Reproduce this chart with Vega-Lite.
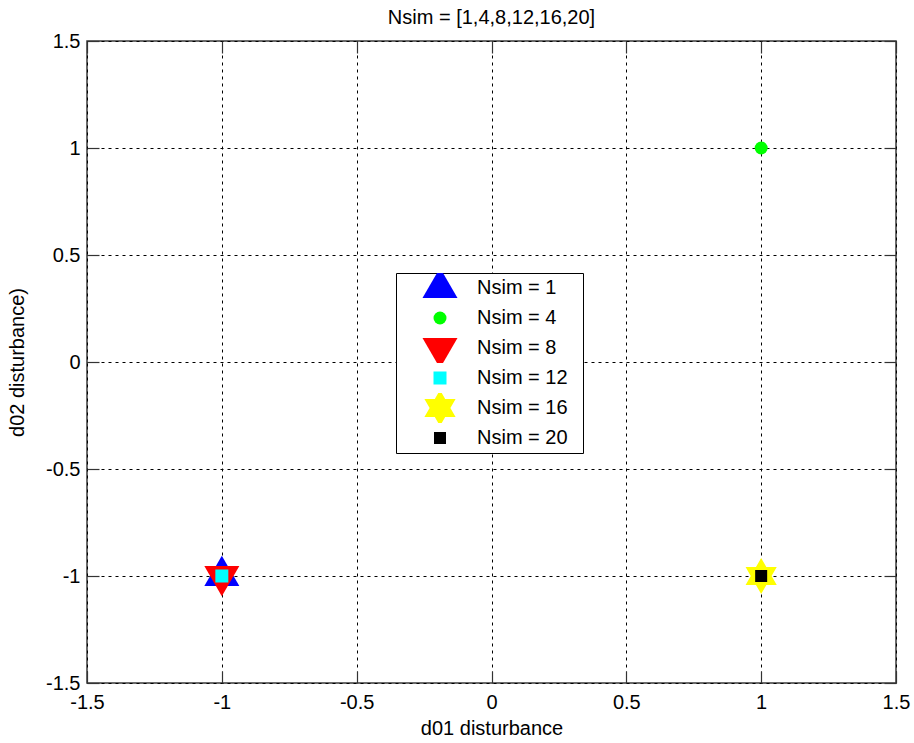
{
  "$schema": "https://vega.github.io/schema/vega-lite/v6.json",
  "width": 809,
  "height": 642,
  "autosize": "none",
  "padding": {"left": 87, "top": 41, "right": 18, "bottom": 60},
  "background": "white",
  "title": {"text": "Nsim = [1,4,8,12,16,20]", "fontSize": 20, "fontWeight": "normal", "font": "Liberation Sans", "color": "black", "offset": 3},
  "data": {"values": [
    {"d01": -1, "d02": -1, "label": "Nsim = 1"},
    {"d01": 1, "d02": 1, "label": "Nsim = 4"},
    {"d01": -1, "d02": -1, "label": "Nsim = 8"},
    {"d01": -1, "d02": -1, "label": "Nsim = 12"},
    {"d01": 1, "d02": -1, "label": "Nsim = 16"},
    {"d01": 1, "d02": -1, "label": "Nsim = 20"}
  ]},
  "layer": [
    {
      "mark": {"type": "point", "filled": true, "opacity": 1},
      "encoding": {
        "x": {"field": "d01", "type": "quantitative", "scale": {"domain": [-1.5, 1.5], "nice": false, "zero": false},
          "axis": {"orient": "bottom", "title": "d01 disturbance", "values": [-1.5, -1, -0.5, 0, 0.5, 1, 1.5], "labelExpr": "'' + datum.value", "grid": true, "labelPadding": 21, "titlePadding": 6}},
        "y": {"field": "d02", "type": "quantitative", "scale": {"domain": [-1.5, 1.5], "nice": false, "zero": false},
          "axis": {"orient": "left", "title": "d02 disturbance)", "values": [-1.5, -1, -0.5, 0, 0.5, 1, 1.5], "labelExpr": "'' + datum.value", "grid": true, "labelPadding": 19, "titlePadding": 18}},
        "color": {"field": "label", "type": "nominal",
          "scale": {"domain": ["Nsim = 1", "Nsim = 4", "Nsim = 8", "Nsim = 12", "Nsim = 16", "Nsim = 20"], "range": ["#0000ff", "#00ff00", "#ff0000", "#00ffff", "#ffff00", "#000000"]},
          "legend": {"orient": "none", "legendX": 309, "legendY": 232, "title": null, "labelExpr": "datum.label + '\u2800'"}},
        "shape": {"field": "label", "type": "nominal",
          "scale": {"domain": ["Nsim = 1", "Nsim = 4", "Nsim = 8", "Nsim = 12", "Nsim = 16", "Nsim = 20"], "range": ["M0,-1.155L1,0.577L-1,0.577Z", "circle", "M0,1.155L1,-0.577L-1,-0.577Z", "square", "M0,-1L0.289,-0.5L0.866,-0.5L0.577,0L0.866,0.5L0.289,0.5L0,1L-0.289,0.5L-0.866,0.5L-0.577,0L-0.866,-0.5L-0.289,-0.5Z", "square"]},
          "legend": {"orient": "none", "legendX": 309, "legendY": 232, "title": null, "labelExpr": "datum.label + '\u2800'"}},
        "size": {"field": "label", "type": "nominal",
          "scale": {"type": "ordinal", "domain": ["Nsim = 1", "Nsim = 4", "Nsim = 8", "Nsim = 12", "Nsim = 16", "Nsim = 20"], "range": [1225, 169, 1225, 169, 1296, 144]},
          "legend": {"orient": "none", "legendX": 309, "legendY": 232, "title": null, "labelExpr": "datum.label + '\u2800'"}}
      }
    },
    {
      "mark": {"type": "point", "opacity": 0},
      "encoding": {
        "x": {"field": "d01", "type": "quantitative", "scale": {"domain": [-1.5, 1.5], "nice": false, "zero": false},
          "axis": {"orient": "top", "title": null, "values": [-1.5, -1, -0.5, 0, 0.5, 1, 1.5], "labels": false, "grid": false}},
        "y": {"field": "d02", "type": "quantitative", "scale": {"domain": [-1.5, 1.5], "nice": false, "zero": false},
          "axis": {"orient": "right", "title": null, "values": [-1.5, -1, -0.5, 0, 0.5, 1, 1.5], "labels": false, "grid": false}}
      }
    }
  ],
  "resolve": {"axis": {"x": "independent", "y": "independent"}},
  "config": {
    "font": "Liberation Sans",
    "view": {"stroke": "#3a3a3a", "strokeWidth": 1.5},
    "axis": {
      "domain": false,
      "tickSize": -12,
      "tickColor": "#333333",
      "tickWidth": 1.2,
      "gridColor": "#000000",
      "gridDash": [3, 4],
      "gridWidth": 1,
      "gridOpacity": 1,
      "labelFlush": false,
      "labelOverlap": false,
      "labelFontSize": 20,
      "labelColor": "#000000",
      "labelFont": "Liberation Sans",
      "titleFontSize": 20,
      "titleFontWeight": "normal",
      "titleColor": "#000000",
      "titleFont": "Liberation Sans"
    },
    "legend": {
      "fillColor": "white",
      "strokeColor": "black",
      "strokeWidth": 1,
      "padding": 0,
      "clipHeight": 30,
      "rowPadding": 0,
      "symbolOffset": 26,
      "labelOffset": 19,
      "labelFontSize": 20,
      "labelFont": "Liberation Sans",
      "labelColor": "#000000",
      "symbolStrokeWidth": 0
    }
  }
}
